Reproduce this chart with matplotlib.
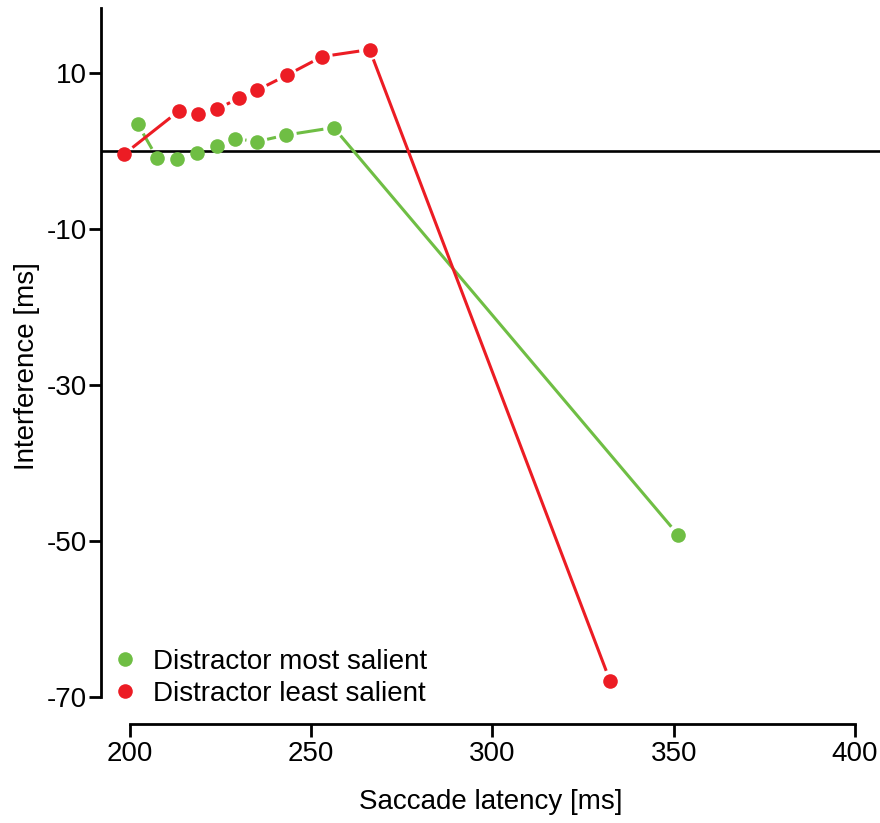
import numpy as np
import matplotlib.pyplot as plt
from matplotlib.lines import Line2D

# ----------------------------
# Data
# ----------------------------
most_x = [202.2, 207.5, 213.0, 218.6, 223.9, 228.9, 235.0, 243.1, 256.2, 351.2]
most_y = [3.4, -0.9, -1.0, -0.3, 0.6, 1.6, 1.2, 2.05, 3.0, -49.2]

least_x = [198.4, 213.4, 218.8, 224.1, 230.2, 235.1, 243.2, 253.0, 266.1, 332.4]
least_y = [-0.4, 5.1, 4.8, 5.4, 6.8, 7.8, 9.7, 12.1, 13.0, -67.9]

labels = ["Distractor most salient", "Distractor least salient"]
xticks = [200, 250, 300, 350, 400]
yticks = [10, -10, -30, -50, -70]

GREEN = "#6FBE44"
RED = "#EC1C24"

plt.rcParams["font.family"] = ["Liberation Sans", "DejaVu Sans"]
FS = 20

W, H = 880, 823
fig = plt.figure(figsize=(W / 100, H / 100), dpi=100)
ax = fig.add_axes([101 / W, (H - 724) / H, (W - 101) / W, (724 - 8) / H])
ax.set_xlim(192.0, 406.9)
ax.set_ylim(-73.46, 18.33)


def gapped(ax, xs, ys, gap, **kw):
    # R type="b": line segments stop short of each point
    pts = ax.transData.transform(np.column_stack([xs, ys]))
    inv = ax.transData.inverted()
    for p, q in zip(pts[:-1], pts[1:]):
        d = q - p
        L = np.hypot(*d)
        if L <= 2 * gap:
            continue
        u = d / L
        a = inv.transform(p + u * gap)
        b = inv.transform(q - u * gap)
        ax.plot([a[0], b[0]], [a[1], b[1]], solid_capstyle="butt", **kw)


ax.axhline(0, color="black", lw=1.9, zorder=1)

MS = 10.5
gapped(ax, most_x, most_y, 10.5, color=GREEN, lw=2.2)
ax.plot(most_x, most_y, "o", color=GREEN, ms=MS, mew=0, zorder=3)
gapped(ax, least_x, least_y, 10.5, color=RED, lw=2.2)
ax.plot(least_x, least_y, "o", color=RED, ms=MS, mew=0, zorder=3)

for s in ["top", "right"]:
    ax.spines[s].set_visible(False)
ax.spines["left"].set_bounds(-70, 18.33)
ax.spines["bottom"].set_bounds(200, 400)
ax.spines["left"].set_linewidth(2.0)
ax.spines["bottom"].set_linewidth(2.0)

ax.set_xticks(xticks)
ax.set_yticks(yticks)
ax.set_yticklabels([str(v) for v in yticks])
ax.tick_params(axis="both", length=9, width=2.0, labelsize=FS)
ax.tick_params(axis="x", pad=3)
ax.tick_params(axis="y", pad=1)

ax.set_xlabel("Saccade latency [ms]", fontsize=FS, labelpad=16)
ax.set_ylabel("Interference [ms]", fontsize=FS, labelpad=5)

handles = [Line2D([], [], ls="none", marker="o", color=c, ms=MS, mew=0) for c in (GREEN, RED)]
ax.legend(handles, labels, loc="upper left", bbox_to_anchor=(93 / W, 1 - 635 / H),
          bbox_transform=fig.transFigure, frameon=False, fontsize=FS,
          handletextpad=0.35, handlelength=1.3, labelspacing=0.22, borderpad=0)

fig.savefig("out.png", dpi=100)
